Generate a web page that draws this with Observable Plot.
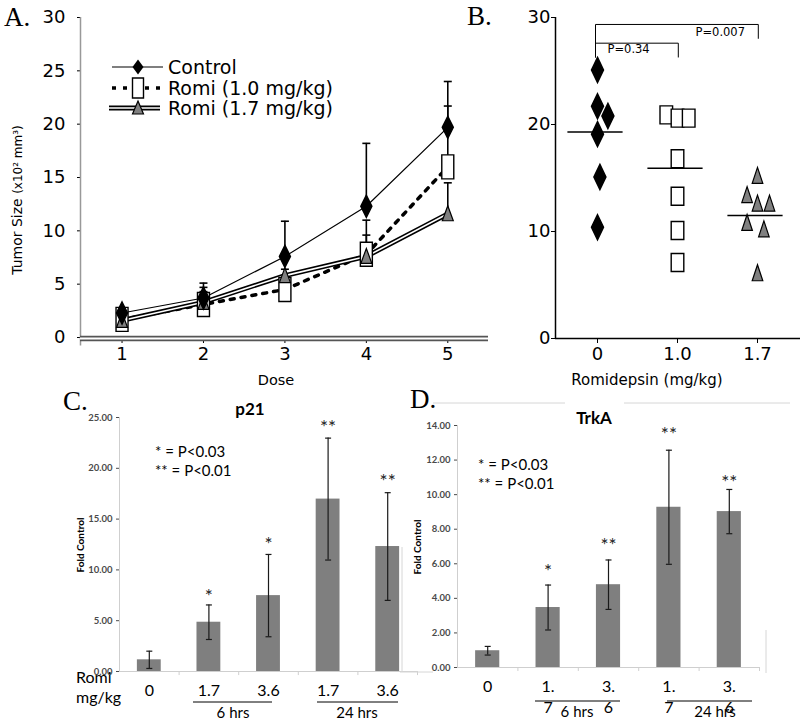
<!DOCTYPE html>
<html><head><meta charset="utf-8">
<script src="https://cdn.jsdelivr.net/npm/d3@7"></script>
<script src="https://cdn.jsdelivr.net/npm/@observablehq/plot@0.6"></script>
<style>
body{margin:0;background:#fff;}
#root{position:relative;width:800px;height:721px;overflow:hidden;background:#fff;}
.panel{position:absolute;}
.t{position:absolute;white-space:pre;line-height:1;}
</style></head><body><div id="root"></div>
<script>
// ---------------- DATA ----------------
// Panel A: tumor size (x10^2 mm^3) by dose
const doses = [1, 2, 3, 4, 5];
const seriesNames = ["Control", "Romi (1.0 mg/kg)", "Romi (1.7 mg/kg)"];
const ctrlA = [2.3, 3.7, 7.6, 12.3, 19.7];
const ctrlAErrTop = [2.7, 5.1, 10.9, 18.2, 24.0];
const romi10A = [1.7, 3.1, 4.5, 7.8, 16.0];
const romi10AErrTop = [2.2, 4.7, 5.4, 11.0, 21.7];
const romi17A = [1.6, 3.3, 5.8, 7.6, 11.6];
const romi17AErrTop = [2.3, 4.3, 6.4, 9.6, 14.5];

// Panel B: individual tumors
const groupsB = ["0", "1.0", "1.7"];
const ctrlB = [25.1, 21.7, 20.8, 19.1, 15.1, 10.4];
const ctrlBJitter = [0, 0, 0.13, 0, 0.03, 0];
const romi10B = [20.9, 20.6, 20.6, 16.8, 13.3, 10.1, 7.1];
const romi10BJitter = [-0.14, 0, 0.14, 0, 0, 0, 0];
const romi17B = [15.2, 13.4, 12.6, 12.6, 10.8, 10.2, 6.1];
const romi17BJitter = [0, -0.13, 0, 0.15, -0.13, 0.08, 0];
const centerB = [19.3, 15.9, 11.5];
const comparisonsB = [[0, 1], [0, 2]];
const pValuesB = ["P=0.34", "P=0.007"];

// Panel C: p21
const doseLabels = ["0", "1.7", "3.6", "1.7", "3.6"];
const timeGroups = ["6 hrs", "24 hrs"];
const p21 = [1.15, 4.85, 7.47, 16.97, 12.3];
const p21Err = [0.85, 1.7, 4.05, 6.0, 5.3];
const p21Stars = ["", "*", "*", "**", "**"];
const p21StarLevel = [0, 7.8, 13.0, 24.5, 19.2];

// Panel D: TrkA
const doseLabelsD = ["0", "1.\n7", "3.\n6", "1.\n7", "3.\n6"];
const trkA = [0.97, 3.47, 4.79, 9.27, 9.02];
const trkAErr = [0.25, 1.3, 1.43, 3.3, 1.28];
const trkAStars = ["", "*", "**", "**", "**"];
const trkAStarLevel = [0, 5.83, 7.34, 13.77, 10.99];

const sigLegend = ["* = P<0.03", "** = P<0.01"];

// ---------------- HELPERS ----------------
const root = document.getElementById("root");
const serif = "'Liberation Serif','DejaVu Serif',serif";
const dv = "'DejaVu Sans',Verdana,sans-serif";
const lato = "Lato,'Open Sans',sans-serif";

function shape(pts){return {draw(ctx){ctx.moveTo(pts[0][0],pts[0][1]);for(let i=1;i<pts.length;i++)ctx.lineTo(pts[i][0],pts[i][1]);ctx.closePath();}};}
const diamond=(w,h)=>shape([[0,-h],[w,0],[0,h],[-w,0]]);
const rectS=(w,h)=>shape([[-w,-h],[w,-h],[w,h],[-w,h]]);
const tri=(w,hu,hd)=>shape([[0,-hu],[w,hd],[-w,hd]]);
const hcap=w=>({draw(ctx){ctx.moveTo(-w,0);ctx.lineTo(w,0);}});

function place(node,left,top){const d=document.createElement("div");d.className="panel";d.style.left=left+"px";d.style.top=top+"px";d.appendChild(node);root.appendChild(d);}
function txt(s,x,y,o={}){
  const {size=16,family=lato,weight="normal",anchor="middle",rotate=0,color="black",html=false}=o;
  const el=document.createElement("div");el.className="t";
  if(html) el.innerHTML=s; else el.textContent=s;
  const tx=anchor==="middle"?"-50%":anchor==="end"?"-100%":"0";
  el.style.left=x+"px";el.style.top=y+"px";el.style.fontSize=size+"px";el.style.fontFamily=family;
  el.style.fontWeight=weight;el.style.color=color;
  el.style.transform=`translate(${tx},-50%)`;
  if(rotate) el.style.transform=`translate(-50%,-50%) rotate(${rotate}deg)`;
  root.appendChild(el);
}

// ---------------- PANEL A ----------------
const rowsOf=(vals,tops)=>doses.map((d,i)=>({dose:d,value:vals[i],top:tops[i]}));
const cA=rowsOf(ctrlA,ctrlAErrTop), rA10=rowsOf(romi10A,romi10AErrTop), rA17=rowsOf(romi17A,romi17AErrTop);
const xDomA=[0.49,5.5];
const symA={ctrl:diamond(5.5,11), r10:rectS(6,12), r17:tri(5.5,8,7)};
const errMarks=rows=>[
  Plot.ruleX(rows,{x:"dose",y1:"value",y2:"top",stroke:"black",strokeWidth:1.6}),
  Plot.dot(rows,{x:"dose",y:"top",symbol:hcap(4),stroke:"black",strokeWidth:1.6,fill:"none"})
];
const plotA=Plot.plot({
  width:490,height:370,marginLeft:80,marginRight:2,marginTop:17,marginBottom:33,
  style:{fontFamily:dv,fontSize:"18px",color:"black",background:"transparent",overflow:"visible"},
  x:{domain:xDomA,ticks:doses,tickFormat:d3.format("d"),tickSize:6,tickPadding:4,label:null},
  y:{domain:[0,30],ticks:[0,5,10,15,20,25,30],tickSize:3,tickPadding:12,label:null},
  marks:[
    Plot.ruleX([xDomA[0]],{y1:-0.8,y2:30,stroke:"#999",strokeWidth:1.5}),
    Plot.ruleY([0],{stroke:"#555",strokeWidth:5.5,dy:1}),
    Plot.ruleY([0],{stroke:"white",strokeWidth:2.2,dy:1}),
    ...errMarks(cA),...errMarks(rA10),...errMarks(rA17),
    Plot.line(cA,{x:"dose",y:"value",stroke:"black",strokeWidth:1.2}),
    Plot.line(rA10,{x:"dose",y:"value",stroke:"black",strokeWidth:3.5,strokeDasharray:"4,7"}),
    Plot.line(rA17,{x:"dose",y:"value",stroke:"black",strokeWidth:4.8}),
    Plot.line(rA17,{x:"dose",y:"value",stroke:"white",strokeWidth:1.6}),
    Plot.dot(rA10,{x:"dose",y:"value",symbol:symA.r10,fill:"white",stroke:"black",strokeWidth:1.4}),
    Plot.dot(rA17,{x:"dose",y:"value",symbol:symA.r17,fill:"#808080",stroke:"black",strokeWidth:1.2}),
    Plot.dot(cA,{x:"dose",y:"value",symbol:symA.ctrl,fill:"black",stroke:"black"})
  ]
});
place(plotA,0,0);

// ---------------- PANEL B ----------------
const ptsB=[
  ...ctrlB.map((v,i)=>({g:0,x:0+ctrlBJitter[i],v,s:"c"})),
  ...romi10B.map((v,i)=>({g:1,x:1+romi10BJitter[i],v,s:"a"})),
  ...romi17B.map((v,i)=>({g:2,x:2+romi17BJitter[i],v,s:"b"}))
];
const xDomB=[-0.525,2.5375];
const brLevels=[27.6,29.35], brLegL=[26.3,26.3], brLegR=[26.3,28.05], brLabelX=[0.125,1.225], brLabelY=[27.0,28.6];
const brPts=comparisonsB.flatMap(([a,b],k)=>[
  {k,x:a-0.025,y:brLegL[k]},{k,x:a-0.025,y:brLevels[k]},{k,x:b+0.01,y:brLevels[k]},{k,x:b+0.01,y:brLegR[k]}]);
const brLab=pValuesB.map((t,k)=>({t,x:brLabelX[k],y:brLabelY[k]}));
const centerRows=centerB.map((v,i)=>({i,v}));
const plotB=Plot.plot({
  width:310,height:370,marginLeft:65,marginRight:0,marginTop:17,marginBottom:32,
  style:{fontFamily:dv,fontSize:"18px",color:"black",background:"transparent",overflow:"visible"},
  x:{domain:xDomB,ticks:[0,1,2],tickFormat:i=>groupsB[i],tickSize:5,tickPadding:4,label:null},
  y:{domain:[0,30],ticks:[0,10,20,30],tickSize:4,tickPadding:1,label:null},
  marks:[
    Plot.ruleX([xDomB[0]],{y1:0,y2:30,stroke:"black",strokeWidth:1.5}),
    Plot.ruleY([0],{stroke:"black",strokeWidth:1.5}),
    Plot.line(brPts,{x:"x",y:"y",z:"k",stroke:"black",strokeWidth:1}),
    Plot.text(brLab,{x:"x",y:"y",text:"t",textAnchor:"start",fontSize:11.5,fontFamily:dv,fill:"black"}),
    Plot.ruleY(centerRows,{y:"v",x1:d=>d.i-0.37,x2:d=>d.i+0.32,stroke:"black",strokeWidth:1.5}),
    Plot.dot(ptsB.filter(d=>d.s==="a"),{x:"x",y:"v",symbol:rectS(6.3,9),fill:"white",stroke:"black",strokeWidth:1.4}),
    Plot.dot(ptsB.filter(d=>d.s==="b"),{x:"x",y:"v",symbol:tri(5.3,8.5,7.5),fill:"#808080",stroke:"black",strokeWidth:1.2}),
    Plot.dot(ptsB.filter(d=>d.s==="c"),{x:"x",y:"v",symbol:diamond(6,12.5),fill:"black",stroke:"black"})
  ]
});
place(plotB,490,0);

// ---------------- PANELS C & D ----------------
function barPanel({vals,errs,stars,starLevel,labels,ymax,ystep,width,mL,mR,mT,mB,capTick}){
  const rows=vals.map((v,i)=>({i,value:v,err:errs[i],star:stars[i],sy:starLevel[i],label:labels[i]}));
  return Plot.plot({
    width,height:351,marginLeft:mL,marginRight:mR,marginTop:mT,marginBottom:mB,
    style:{fontFamily:lato,fontSize:"9.5px",fontWeight:"bold",color:"#4a4a4a",background:"transparent",overflow:"visible"},
    x:{domain:[-0.5,4.5],axis:null},
    y:{domain:[0,ymax],ticks:d3.range(0,ymax+0.001,ystep),tickFormat:d3.format(".2f"),tickSize:3,tickPadding:4,label:null},
    marks:[
      Plot.ruleX([-0.5],{y1:0,y2:ymax,stroke:"#cfcfcf",strokeWidth:1}),
      Plot.ruleY([0],{stroke:"#cfcfcf",strokeWidth:1.2}),
      Plot.ruleX([0.5,1.5,2.5,3.5,4.5],{y1:0,y2:-capTick,stroke:"#cfcfcf"}),
      Plot.rect(rows,{x1:d=>d.i-0.2,x2:d=>d.i+0.2,y1:0,y2:"value",fill:"#7f7f7f"}),
      Plot.ruleX(rows,{x:"i",y1:d=>d.value-d.err,y2:d=>d.value+d.err,stroke:"#1a1a1a",strokeWidth:1.2}),
      Plot.dot(rows,{x:"i",y:d=>d.value+d.err,symbol:hcap(3),stroke:"#1a1a1a",strokeWidth:1.2,fill:"none"}),
      Plot.dot(rows,{x:"i",y:d=>Math.max(0,d.value-d.err),symbol:hcap(3),stroke:"#1a1a1a",strokeWidth:1.2,fill:"none"}),
      Plot.text(rows.filter(d=>d.star),{x:"i",y:"sy",text:"star",dy:5,fontSize:19,fontWeight:"normal",fill:"#222"}),
      Plot.text(rows,{x:"i",y:0,text:"label",lineAnchor:"top",dy:9,lineHeight:1.35,fontSize:16,fontWeight:"normal",fill:"black"})
    ]
  });
}
const plotC=barPanel({vals:p21,errs:p21Err,stars:p21Stars,starLevel:p21StarLevel,labels:doseLabels,ymax:25,ystep:5,width:420,mL:119,mR:3,mT:47,mB:50,capTick:0.4});
place(plotC,0,370);
const plotD=barPanel({vals:trkA,errs:trkAErr,stars:trkAStars,starLevel:trkAStarLevel,labels:doseLabelsD,ymax:14,ystep:2,width:380,mL:37,mR:41,mT:55,mB:54,capTick:0.23});
place(plotD,420,370);

// ---------------- OVERLAY (legend samples, group lines, frame) ----------------
const ov=d3.select(root).append("svg").attr("width",800).attr("height",721)
  .style("position","absolute").style("left",0).style("top",0).style("pointer-events","none");
const symPath=(s)=>{const p=d3.path();s.draw(p);return p.toString();};
// legend A
const lg=ov.append("g");
lg.append("line").attr("x1",112).attr("x2",163).attr("y1",67).attr("y2",67).attr("stroke","black").attr("stroke-width",1.2);
lg.append("path").attr("d",symPath(diamond(5.5,7.5))).attr("transform","translate(138,67)").attr("fill","black");
lg.append("line").attr("x1",112).attr("x2",160).attr("y1",88).attr("y2",88).attr("stroke","black").attr("stroke-width",3.5).attr("stroke-dasharray","4,7");
lg.append("path").attr("d",symPath(rectS(5.5,10))).attr("transform","translate(138,88)").attr("fill","white").attr("stroke","black").attr("stroke-width",1.4);
lg.append("line").attr("x1",109).attr("x2",160).attr("y1",108).attr("y2",108).attr("stroke","black").attr("stroke-width",4.8);
lg.append("line").attr("x1",109).attr("x2",160).attr("y1",108).attr("y2",108).attr("stroke","white").attr("stroke-width",1.6);
lg.append("path").attr("d",symPath(tri(5.5,7,6))).attr("transform","translate(138,108)").attr("fill","#808080").attr("stroke","black").attr("stroke-width",1.2);
// group lines
[[193,272,702],[317,398,702],[535,620,701],[667,752,701]].forEach(([a,b,y])=>
  ov.append("line").attr("x1",a).attr("x2",b).attr("y1",y).attr("y2",y).attr("stroke","black").attr("stroke-width",1));
// D chart-area frame remnants
[[433,403,565,403],[624,403,790,403],[402,547,402,672],[400,672,433,672],[766,630,766,673]].forEach(([x1,y1,x2,y2])=>
  ov.append("line").attr("x1",x1).attr("y1",y1).attr("x2",x2).attr("y2",y2).attr("stroke","#d6d6d6").attr("stroke-width",1));

// ---------------- TEXT ----------------
txt("A.",4,17,{size:27,family:serif,anchor:"start"});
txt("B.",467,16,{size:27,family:serif,anchor:"start"});
txt("C.",63,401,{size:27,family:serif,anchor:"start"});
txt("D.",410,399,{size:27,family:serif,anchor:"start"});
txt('Tumor Size <span style="font-size:12px">(x10² mm³)</span>',17,200,{size:14,family:dv,rotate:-90,html:true});
txt("Dose",276,380,{size:14.5,family:dv});
txt("Romidepsin (mg/kg)",647,380,{size:15,family:dv});
seriesNames.forEach((s,i)=>txt(s,168,[67,88,108][i],{size:19,family:dv,anchor:"start"}));
// C
txt("p21",250,408,{size:17,weight:"bold"});
sigLegend.forEach((s,i)=>txt(s,155,[451,470][i],{size:15,anchor:"start"}));
txt("Fold Control",80,545,{size:10,weight:"bold",rotate:-90});
txt("Romi",76,677,{size:16,anchor:"start"});
txt("mg/kg",76,697,{size:16,anchor:"start"});
txt(timeGroups[0],233,712,{size:15});
txt(timeGroups[1],357,712,{size:15});
// D
txt("TrkA",594,417,{size:17,weight:"bold"});
sigLegend.forEach((s,i)=>txt(s,478,[464,483][i],{size:15,anchor:"start"}));
txt("Fold Control",417,547,{size:10,weight:"bold",rotate:-90});
txt(timeGroups[0],577,711,{size:15});
txt(timeGroups[1],715,711,{size:15});
</script></body></html>
